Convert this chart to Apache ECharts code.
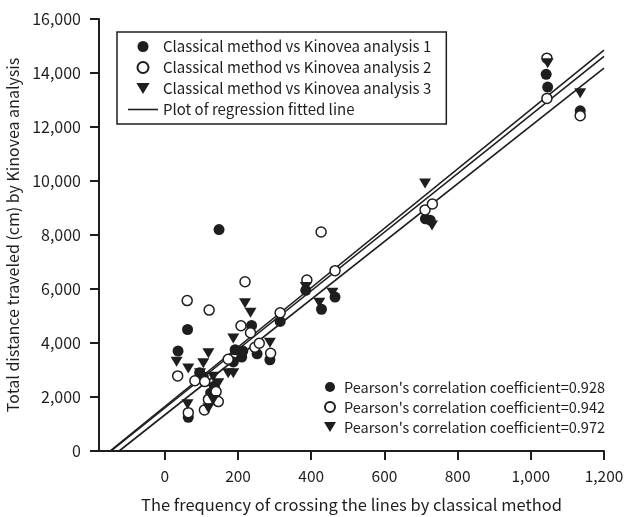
<!DOCTYPE html>
<html>
<head>
<meta charset="utf-8">
<script src="https://cdn.jsdelivr.net/npm/echarts@6/dist/echarts.min.js"></script>
<style>html,body{margin:0;padding:0;background:#fff}#c{width:641px;height:517px}</style>
</head>
<body>
<div id="c"></div>
<script>
const FONT = '"Noto Sans CJK KR", "Noto Sans", sans-serif';
const INK = '#1e1e1e';

const seriesNames = [
  'Classical method vs Kinovea analysis 1',
  'Classical method vs Kinovea analysis 2',
  'Classical method vs Kinovea analysis 3'
];
const lineName = 'Plot of regression fitted line';
const pearsonNames = [
  "Pearson's correlation coefficient=0.928",
  "Pearson's correlation coefficient=0.942",
  "Pearson's correlation coefficient=0.972"
];

const xTicks = [0, 200, 400, 600, 800, 1000, 1200];

const analysis1 = [[36,3700],[62,4500],[64,1250],[95,2900],[105,2750],[125,2150],[135,2400],[148,8200],[187,3300],[192,3750],[210,3480],[213,3700],[237,4650],[252,3600],[287,3380],[315,4800],[385,5950],[428,5250],[465,5700],[712,8600],[725,8550],[1042,13950],[1046,13480],[1135,12600]];
const analysis2 = [[35,2780],[61,5570],[64,1420],[82,2600],[108,1520],[109,2570],[119,1910],[121,5220],[140,2200],[146,1830],[173,3400],[208,4640],[219,6270],[234,4380],[246,3840],[258,3990],[289,3620],[315,5120],[388,6330],[427,8110],[465,6680],[711,8930],[731,9150],[1044,14550],[1044,13060],[1135,12420]];
const analysis3 = [[32,3310],[62,1730],[64,3060],[96,2880],[105,3250],[119,3620],[119,1580],[132,2750],[132,1890],[146,2510],[173,2880],[187,2880],[187,4170],[219,5470],[234,5120],[287,4010],[385,6070],[422,5490],[458,5860],[711,9910],[730,8350],[1046,14360],[1135,13250]];

const regLine1 = [[-150,0],[1200,14850]];
const regLine2 = [[-147,0],[1200,14620]];
const regLine3 = [[-125,0],[1200,14180]];

const TRI = 'path://M0,0L12,0L6,10Z';
const LINE_ICON = 'path://M0,0L30,0L30,1.6L0,1.6Z';
const styles = [
  {symbol:'circle', symbolSize:11, itemStyle:{color:INK, opacity:1}},
  {symbol:'circle', symbolSize:10, itemStyle:{color:'#fff', borderColor:INK, borderWidth:1.5, opacity:1}},
  {symbol:TRI, symbolSize:[12,10], itemStyle:{color:INK, opacity:1}}
];

const fmt = v => Number(v).toLocaleString('en-US');

const chart = echarts.init(document.getElementById('c'), null, {renderer:'canvas'});
const series = [];
[regLine1, regLine2, regLine3].forEach(d => series.push({
  name: lineName, type:'line', data:d, symbol:'none', showSymbol:false, z:1,
  lineStyle:{color:INK, width:1.6}, itemStyle:{color:INK}, silent:true, animation:false
}));
[analysis1, analysis2, analysis3].forEach((d,i) => series.push(Object.assign({
  name: seriesNames[i], type:'scatter', data:d, z:2+i, animation:false
}, styles[i])));
pearsonNames.forEach((n,i) => series.push(Object.assign({
  name:n, type:'scatter', data:[], animation:false
}, styles[i])));

chart.setOption({
  backgroundColor:'#fff',
  textStyle:{fontFamily:FONT},
  grid:{left:99, right:37, top:19, bottom:66, containLabel:false, outerBoundsMode:'none'},
  xAxis:{
    type:'value', min:-180, max:1200,
    name:'The frequency of crossing the lines by classical method',
    nameLocation:'middle', nameGap:45,
    nameTextStyle:{fontSize:16.5, color:INK, fontFamily:FONT},
    axisLine:{show:true, onZero:false, lineStyle:{color:INK, width:2}},
    axisTick:{show:true, customValues:xTicks, length:9, lineStyle:{color:INK, width:2}},
    axisLabel:{customValues:xTicks, formatter:fmt, fontSize:15.5, color:INK, margin:17, fontFamily:FONT},
    splitLine:{show:false}
  },
  yAxis:{
    type:'value', min:0, max:16000, interval:2000,
    name:'Total distance traveled (cm) by Kinovea analysis',
    nameLocation:'middle', nameGap:69, nameRotate:90,
    nameTextStyle:{fontSize:16, color:INK, fontFamily:FONT},
    axisLine:{show:true, onZero:false, lineStyle:{color:INK, width:2}},
    axisTick:{show:true, length:9, lineStyle:{color:INK, width:2}},
    axisLabel:{formatter:fmt, fontSize:16, color:INK, margin:18, fontFamily:FONT},
    splitLine:{show:false}
  },
  legend:[{
    left:117, top:32, orient:'vertical', itemGap:0, itemWidth:30, itemHeight:11,
    padding:[4,15,4,11], borderColor:INK, borderWidth:1.5,
    textStyle:{fontSize:15, color:INK, lineHeight:21, fontFamily:FONT},
    data:[seriesNames[0], seriesNames[1], seriesNames[2], {name:lineName, icon:LINE_ICON}],
    selectedMode:false
  },{
    left:324, top:377, orient:'vertical', itemGap:0, itemWidth:18, itemHeight:10,
    padding:0,
    textStyle:{fontSize:14.5, color:INK, lineHeight:20, fontFamily:FONT},
    data:pearsonNames, selectedMode:false
  }],
  series:series
});
</script>
</body>
</html>
